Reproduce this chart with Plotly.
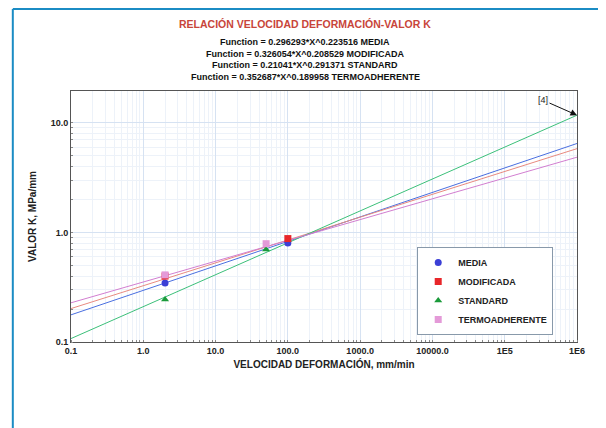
import numpy as np
import plotly.graph_objects as go

# measured points
media_x = [2, 100]
media_y = [0.345, 0.80]
modif_x = [2, 100]
modif_y = [0.40, 0.88]
std_x = [2, 50]
std_y = [0.245, 0.70]
termo_x = [2, 50]
termo_y = [0.41, 0.79]

# fitted lines, read at the axis ends
line_x = [0.1, 1e6]
media_line = [0.177, 6.50]
modif_line = [0.202, 5.83]
std_line = [0.1075, 11.78]
termo_line = [0.228, 4.87]

functions = [
    "Function = 0.296293*X^0.223516 MEDIA",
    "Function = 0.326054*X^0.208529 MODIFICADA",
    "Function = 0.21041*X^0.291371 STANDARD",
    "Function = 0.352687*X^0.189958 TERMOADHERENTE",
]

x_tickvals = [0.1, 1, 10, 100, 1000, 10000, 1e5, 1e6]
x_ticktext = ["0.1", "1.0", "10.0", "100.0", "1000.0", "10000.0", "1E5", "1E6"]
y_tickvals = [0.1, 1, 10]
y_ticktext = ["0.1", "1.0", "10.0"]

series = [
    ("MEDIA", media_x, media_y, media_line, "#3b3fd6", "#4a6fe0", "circle"),
    ("MODIFICADA", modif_x, modif_y, modif_line, "#e8262a", "#e88a80", "square"),
    ("STANDARD", std_x, std_y, std_line, "#1a9a3a", "#3cc07a", "triangle-up"),
    ("TERMOADHERENTE", termo_x, termo_y, termo_line, "#e49ad8", "#d27ed0", "square"),
]

fig = go.Figure()
for name, xs, ys, ln, mcol, lcol, sym in series:
    fig.add_trace(go.Scatter(x=line_x, y=ln, mode="lines", showlegend=False,
                             line=dict(color=lcol, width=1)))
for name, xs, ys, ln, mcol, lcol, sym in series:
    fig.add_trace(go.Scatter(x=xs, y=ys, mode="markers", name=name,
                             marker=dict(color=mcol, symbol=sym, size=7)))

bold = dict(family="Arial, Liberation Sans", size=9, color="#222", weight="bold")
minor = dict(showgrid=True, gridcolor="#edf2f9", dtick="D1", ticks="inside", ticklen=2,
             tickcolor="#888")

fig.update_xaxes(type="log", range=[-1, 6], tickvals=x_tickvals, ticktext=x_ticktext,
                 tickfont=bold, showline=True, mirror=True, linecolor="#555", linewidth=1,
                 gridcolor="#d6e2f2", zeroline=False, ticks="", automargin=False,
                 minor=minor,
                 title=dict(text="VELOCIDAD DEFORMACIÓN, mm/min", font=dict(bold, size=10),
                            standoff=6))
fig.update_yaxes(type="log", range=[-1, 1.292], tickvals=y_tickvals, ticktext=y_ticktext,
                 tickfont=bold, showline=True, mirror=True, linecolor="#555", linewidth=1,
                 gridcolor="#d6e2f2", zeroline=False, ticks="", automargin=False,
                 minor=minor,
                 title=dict(text="VALOR K, MPa/mm", font=dict(bold, size=10), standoff=12))

fig.add_annotation(x=0.4625, y=1.265, xref="paper", yref="paper", showarrow=False,
                   xanchor="center", yanchor="middle",
                   text="RELACIÓN VELOCIDAD DEFORMACIÓN-VALOR K",
                   font=dict(family="Arial, Liberation Sans", size=10.5, color="#c8453a",
                             weight="bold"))
for i, f in enumerate(functions):
    fig.add_annotation(x=0.4625, y=1.195 - i * 0.046, xref="paper", yref="paper",
                       showarrow=False, xanchor="center", yanchor="middle", text=f,
                       font=dict(family="Arial, Liberation Sans", size=9, color="#111",
                                 weight="bold"))

fig.add_annotation(x=6, y=np.log10(std_line[-1]), text="[4]", ax=-34, ay=-15,
                   showarrow=True, arrowhead=2, arrowsize=1.3, arrowwidth=1,
                   arrowcolor="#111", font=dict(family="Arial, Liberation Sans", size=9,
                                                color="#222"))

# blue page frame
fig.add_shape(type="line", xref="paper", yref="paper", x0=-0.115, x1=-0.115, y0=1.327,
              y1=-0.35, line=dict(color="#1b8cc4", width=2))
fig.add_shape(type="line", xref="paper", yref="paper", x0=-0.115, x1=1.06, y0=1.327,
              y1=1.327, line=dict(color="#1b8cc4", width=2))

# page body adds an 8px offset, so the figure is drawn 8px smaller
fig.update_layout(
    width=598, height=420,
    margin=dict(l=63, r=29, t=83, b=86),
    paper_bgcolor="white", plot_bgcolor="white",
    legend=dict(x=0.953, y=0.203, xanchor="right", yanchor="middle",
                bordercolor="#8899aa", borderwidth=1, bgcolor="white",
                font=dict(family="Arial, Liberation Sans", size=9, color="#222",
                          weight="bold"),
                tracegroupgap=0, itemwidth=30),
)

fig.write_html("out.html")
